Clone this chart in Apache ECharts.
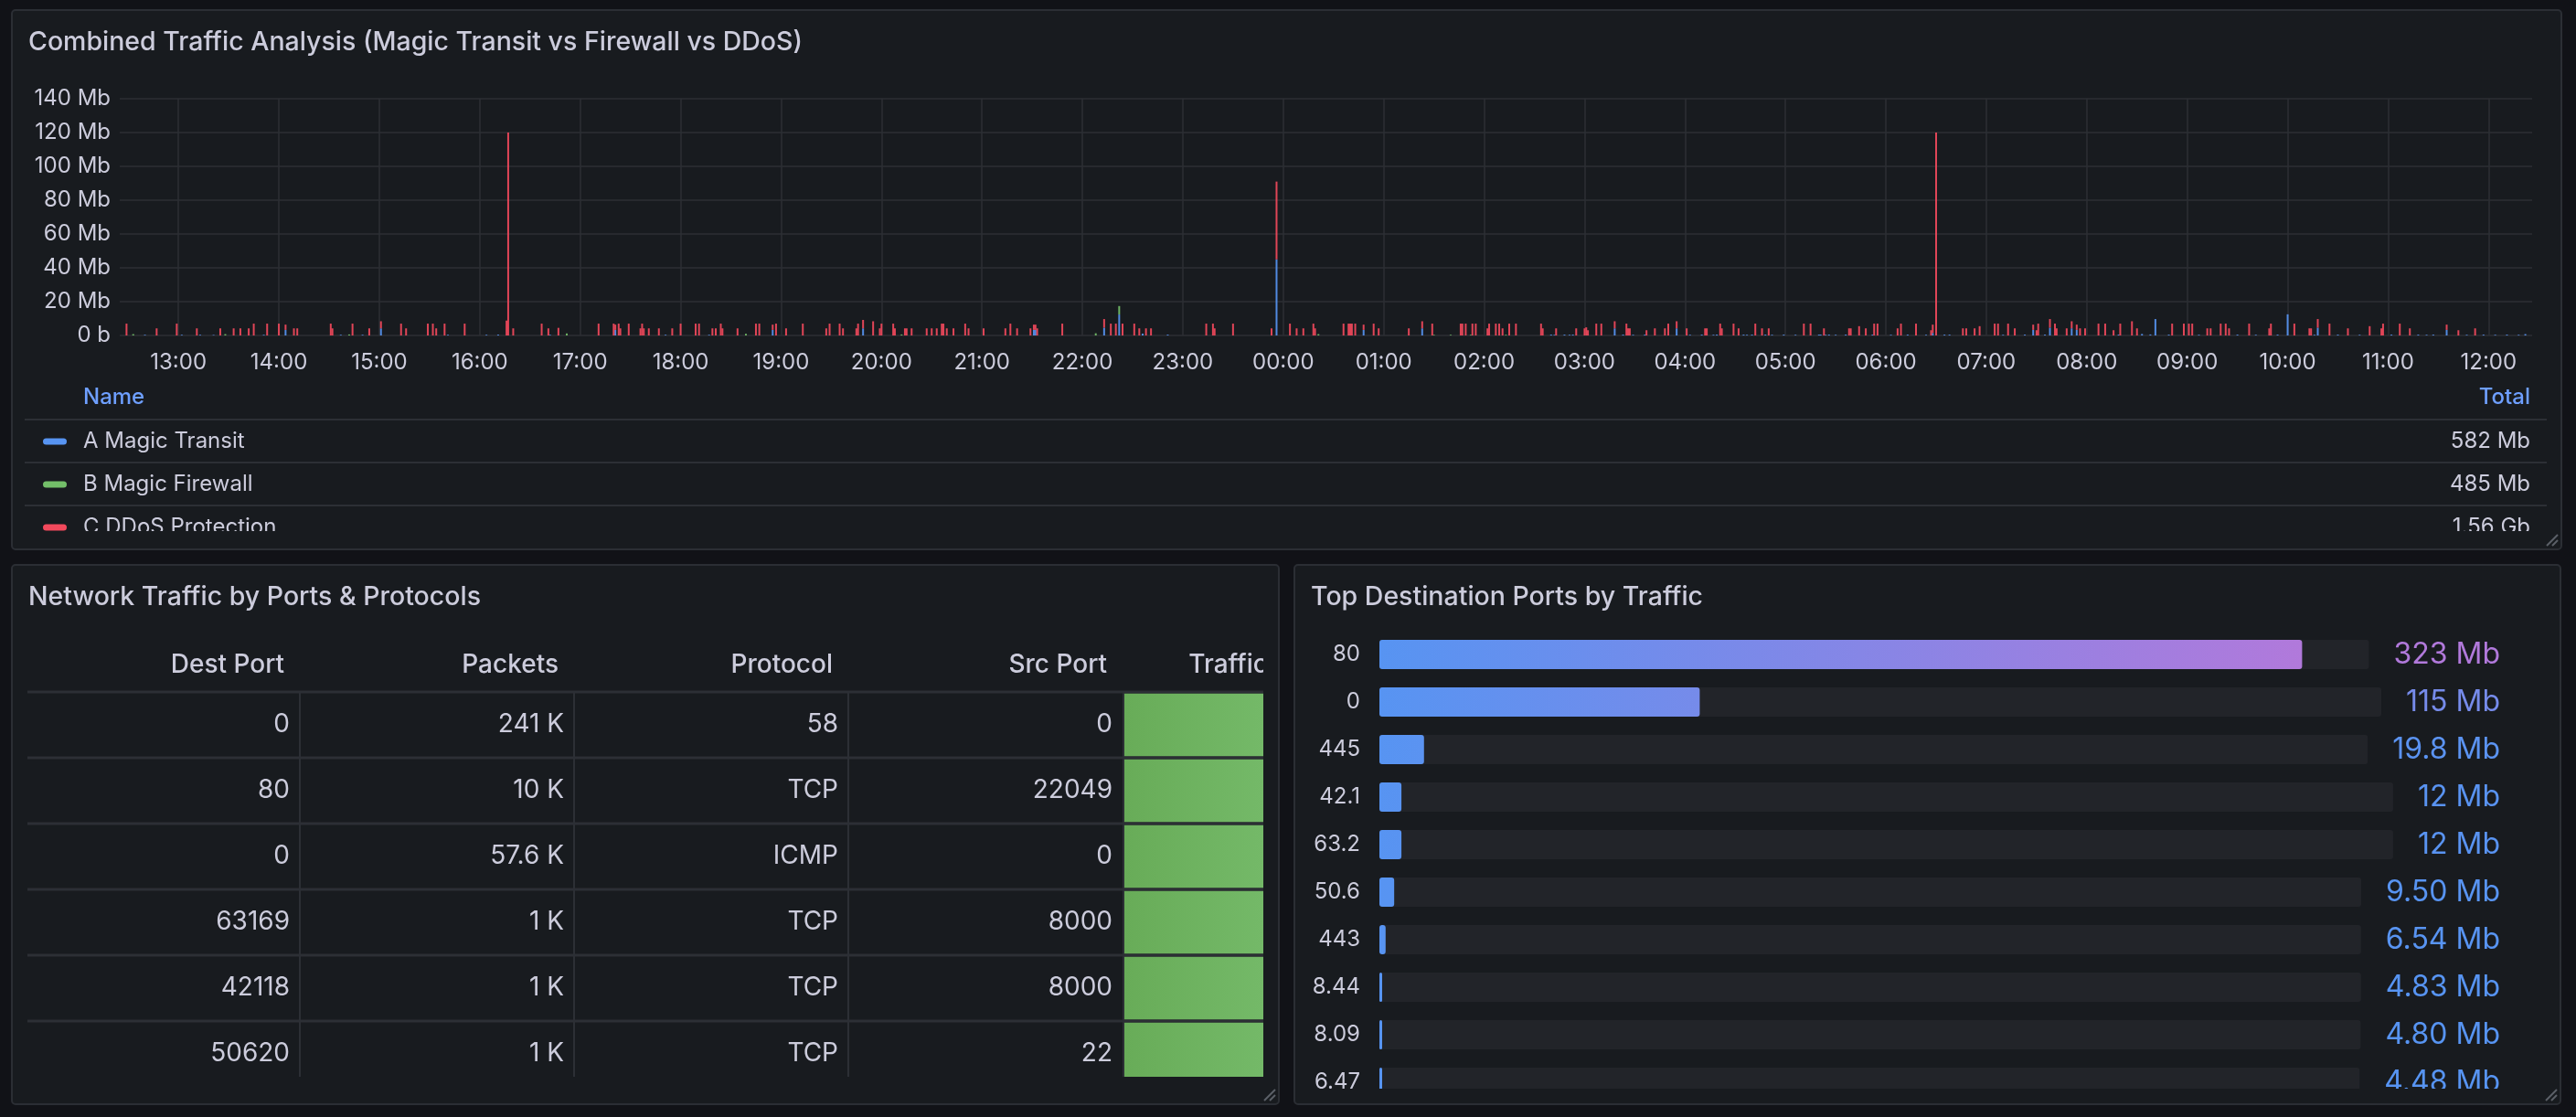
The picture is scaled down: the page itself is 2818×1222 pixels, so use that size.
<!DOCTYPE html>
<html>
<head>
<meta charset="utf-8">
<title>Traffic dashboard</title>
<script src="https://cdn.jsdelivr.net/npm/echarts@6/dist/echarts.min.js"></script>
<style>
  html, body { margin: 0; padding: 0; background: #111217; }
  #main { width: 2818px; height: 1222px; }
</style>
</head>
<body>
<div id="main"></div>
<script>
// ---- time series: sparse spikes (HH:MM, Mb) ----
var transitTimes = ['12:40', '13:02', '13:13', '13:21', '13:51', '14:04', '14:37', '14:50', '15:01', '15:41', '16:04', '16:11',
    '16:42', '17:21', '17:51', '18:17', '18:55', '19:49', '21:31', '21:32', '22:13', '22:22', '22:36', '22:51', '23:56',
    '00:48', '01:23', '02:40', '02:42', '02:48', '02:51', '02:53', '03:18', '03:23', '03:29', '03:36', '03:55', '04:03',
    '04:10', '04:17', '04:19', '04:35', '04:37', '04:40', '04:48', '04:52', '04:59', '05:06', '05:20', '05:21', '05:24',
    '05:26', '05:30', '05:36', '05:52', '06:03', '06:13', '06:24', '06:28', '06:35', '06:38', '07:10', '07:23', '07:28',
    '07:35', '07:38', '07:51', '07:54', '08:19', '08:33', '08:38', '08:41', '08:49', '09:07', '09:30', '09:41', '09:54',
    '10:00', '10:16', '10:18', '10:30', '10:43', '11:02', '11:18', '11:23', '11:27', '11:35', '11:47', '11:57', '12:04',
    '12:11', '12:18', '12:22'];
var transitValues = [0.4, 0.4, 0.4, 0.3, 0.4, 3.3, 0.4, 0.4, 4.2, 0.4, 0.4, 0.5,
    0.4, 3.3, 0.4, 0.4, 3.3, 4.2, 3.3, 3.3, 4.6, 12.4, 1.1, 0.5, 45,
    3.3, 4.2, 0.5, 0.4, 0.5, 0.4, 0.5, 4.2, 0.5, 0.4, 0.5, 4.2, 0.4,
    0.5, 0.4, 0.5, 0.5, 0.4, 0.5, 0.5, 0.4, 0.5, 0.4, 0.5, 0.5, 0.4,
    0.5, 0.4, 0.5, 0.5, 0.4, 0.5, 0.4, 1.5, 0.5, 0.5, 0.4, 0.5, 3.3,
    0.5, 4.6, 4.2, 3.3, 0.5, 0.9, 0.6, 9.7, 0.5, 0.4, 0.5, 0.4, 0.5,
    12.5, 0.4, 4.6, 0.5, 0.4, 0.5, 0.5, 0.4, 0.5, 3.3, 0.4, 0.5, 0.4,
    0.5, 0.4, 0.8];

var firewallTimes = ['12:33', '13:28', '14:42', '16:52', '18:39', '20:12', '22:08', '22:22', '00:21', '01:30', '01:40', '01:52', '02:13'];
var firewallValues = [0.8, 0.8, 0.6, 1.2, 1.0, 0.6, 1.3, 5.0, 0.8, 0.4, 0.4, 0.4, 0.4];

var ddosTimes = ['12:29', '12:47', '12:59', '13:11', '13:25', '13:33', '13:37', '13:42', '13:45', '13:53', '14:00', '14:04',
    '14:09', '14:11', '14:31', '14:32', '14:44', '14:54', '15:01', '15:13', '15:16', '15:29', '15:32', '15:34', '15:39',
    '15:51', '16:16', '16:17', '16:20', '16:37', '16:41', '16:47', '17:11', '17:20', '17:21', '17:23', '17:24', '17:29',
    '17:36', '17:37', '17:38', '17:41', '17:47', '17:55', '18:00', '18:09', '18:11', '18:19', '18:21', '18:24', '18:25',
    '18:34', '18:45', '18:47', '18:55', '18:57', '19:03', '19:13', '19:27', '19:29', '19:35', '19:37', '19:45', '19:46',
    '19:49', '19:55', '19:59', '20:00', '20:07', '20:08', '20:14', '20:15', '20:18', '20:27', '20:30', '20:33', '20:36',
    '20:37', '20:39', '20:43', '20:50', '20:52', '21:01', '21:14', '21:17', '21:21', '21:29', '21:31', '21:32', '21:33',
    '21:48', '22:13', '22:17', '22:20', '22:24', '22:31', '22:34', '22:38', '22:41', '23:14', '23:18', '23:19', '23:30',
    '23:53', '23:56', '00:04', '00:08', '00:12', '00:18', '00:19', '00:36', '00:39', '00:40', '00:41', '00:43', '00:48',
    '00:54', '00:57', '01:15', '01:23', '01:29', '01:46', '01:47', '01:49', '01:53', '01:55', '02:02', '02:03', '02:07',
    '02:09', '02:11', '02:15', '02:19', '02:34', '02:35', '02:43', '02:55', '03:00', '03:01', '03:02', '03:07', '03:10',
    '03:18', '03:25', '03:26', '03:27', '03:37', '03:42', '03:48', '03:50', '03:55', '04:01', '04:12', '04:13', '04:21',
    '04:22', '04:29', '04:32', '04:42', '04:46', '04:50', '05:11', '05:15', '05:23', '05:38', '05:39', '05:44', '05:48',
    '05:53', '05:55', '06:07', '06:09', '06:18', '06:27', '06:28', '06:30', '06:46', '06:48', '06:53', '06:56', '07:05',
    '07:07', '07:13', '07:17', '07:28', '07:30', '07:31', '07:38', '07:41', '07:42', '07:48', '07:51', '07:54', '07:56',
    '07:59', '08:07', '08:11', '08:16', '08:20', '08:27', '08:30', '08:51', '08:58', '09:01', '09:03', '09:12', '09:14',
    '09:20', '09:23', '09:25', '09:37', '09:49', '09:50', '10:04', '10:13', '10:14', '10:18', '10:25', '10:36', '10:49',
    '10:56', '10:57', '11:07', '11:13', '11:35', '11:42', '11:52'];
var ddosValues = [7, 4.2, 7, 4.2, 4.2, 4.2, 4.2, 4.2, 7, 7, 7, 3.1,
    4.2, 4.2, 7, 4.2, 7, 4.2, 4.2, 7, 4.2, 7, 7, 4.2, 7,
    7, 8.8, 120, 4.2, 7, 4.2, 4.5, 7, 7, 3.1, 7, 4.2, 7,
    4.2, 7, 4.2, 4.2, 4.2, 4.2, 7, 7, 7, 4.2, 4.2, 7, 4.2,
    4.2, 7, 7, 3.1, 7, 4.2, 7, 4.2, 7, 7, 4.2, 4.2, 7,
    5.0, 8.4, 4.2, 7, 7, 4.2, 4.2, 4.2, 4.2, 4.2, 4.2, 4.2, 7,
    7, 4.2, 4.2, 7, 4.2, 4.2, 4.2, 7, 4.2, 4.2, 3.1, 3.1, 4.2,
    7, 5.1, 7, 7, 7, 7, 4.2, 4.2, 4.2, 7, 7, 4.2, 7,
    4.2, 46, 7, 4.2, 4.2, 7, 4.2, 7, 7, 7, 7, 7, 3.1,
    7, 4.2, 4.2, 4.2, 7, 7, 7, 7, 7, 7, 4.2, 7, 7,
    7, 4.2, 7, 7, 7, 4.2, 4.2, 4.2, 4.2, 4.8, 3.1, 7, 7,
    4.2, 7, 4.2, 4.2, 3.1, 4.2, 4.2, 7, 4.2, 4.2, 4.2, 4.2, 7,
    4.2, 7, 4.2, 7, 4.2, 4.2, 7, 7, 4.2, 4.2, 4.2, 5.5, 4.2,
    7, 7, 4.2, 7, 7, 3.1, 4.9, 120, 4.2, 4.2, 4.2, 5.5, 7,
    7, 7, 4.2, 3.1, 3.1, 7, 5.1, 7, 4.2, 4.2, 4.2, 3.1, 4.2,
    4.2, 7, 7, 3.1, 7, 8.4, 4.2, 7, 7, 7, 7, 4.2, 4.2,
    7, 7, 4.2, 7, 4.2, 7, 7, 4.2, 4.2, 5.1, 7, 4.2, 5.5,
    4.2, 7, 7, 4.2, 3.1, 3.1, 4.2];

var yTicks = [0, 20, 40, 60, 80, 100, 120, 140];
var legendNames = ['A Magic Transit', 'B Magic Firewall', 'C DDoS Protection'];
var legendTotals = ['582 Mb', '485 Mb', '1.56 Gb'];

// ---- table ----
var tableHeaders = ['Dest Port', 'Packets', 'Protocol', 'Src Port', 'Traffic'];
var destPorts = ['0', '80', '0', '63169', '42118', '50620'];
var packets = ['241 K', '10 K', '57.6 K', '1 K', '1 K', '1 K'];
var protocols = ['58', 'TCP', 'ICMP', 'TCP', 'TCP', 'TCP'];
var srcPorts = ['0', '22049', '0', '8000', '8000', '22'];

// ---- bar gauge ----
var portLabels = ['80', '0', '445', '42.1', '63.2', '50.6', '443', '8.44', '8.09', '6.47'];
var portValues = [323, 115, 19.8, 12, 12, 9.5, 6.54, 4.83, 4.80, 4.48];
var portValueText = ['323 Mb', '115 Mb', '19.8 Mb', '12 Mb', '12 Mb', '9.50 Mb', '6.54 Mb', '4.83 Mb', '4.80 Mb', '4.48 Mb'];

var FONT = 'Inter, "Noto Sans", sans-serif';
var TEXT = '#ccccdc';
var GRID_LINE = '#2c2f35';
var PANEL_BG = '#181b1f';
var PANEL_BORDER = '#2b2e34';
var COLORS = ['#5794F2', '#73BF69', '#F2495C'];
var GAUGE_MIN = 4.4;
var GAUGE_MAX = 347.5;

var START = new Date(2024, 4, 1, 12, 25, 30).getTime();
var END = START + 24 * 3600 * 1000;

function toTs(hm) {
    var p = hm.split(':');
    var t = new Date(2024, 4, 1, Number(p[0]), Number(p[1])).getTime();
    if (t < START) t += 24 * 3600 * 1000;
    return t;
}

// stacking on a time axis goes by index, so put every series on the same time list
var allTimes = [];
transitTimes.concat(firewallTimes, ddosTimes).forEach(function (hm) {
    var t = toTs(hm);
    if (allTimes.indexOf(t) < 0) allTimes.push(t);
});
allTimes.sort(function (a, b) { return a - b; });

function alignSeries(times, values) {
    var m = {};
    times.forEach(function (hm, i) { m[toTs(hm)] = values[i]; });
    return allTimes.map(function (t) { return [t, m[t] || 0]; });
}

function mixColor(a, b, f) {
    var pa = [1, 3, 5].map(function (i) { return parseInt(a.substr(i, 2), 16); });
    var pb = [1, 3, 5].map(function (i) { return parseInt(b.substr(i, 2), 16); });
    return 'rgb(' + pa.map(function (v, i) { return Math.round(v + (pb[i] - v) * f); }).join(',') + ')';
}

var measureCtx = document.createElement('canvas').getContext('2d');
function textWidth(t, size) {
    measureCtx.font = size + 'px ' + FONT;
    return measureCtx.measureText(t).width;
}

// ---- graphic: panels, legend table, data table ----
var g = [];

function panel(x, y, w, h, title) {
    g.push({ type: 'rect', z: -100, shape: { x: x, y: y, width: w, height: h, r: 4 },
        style: { fill: PANEL_BG, stroke: PANEL_BORDER, lineWidth: 2 } });
    g.push({ type: 'text', z: 10, style: { x: x + 18, y: y + 35, text: title, fill: TEXT,
        fontSize: 28.5, fontWeight: 500, fontFamily: FONT, verticalAlign: 'middle' } });
}
function resizeHandle(x, y) {
    g.push({ type: 'line', z: 120, shape: { x1: x - 14, y1: y - 2, x2: x - 2, y2: y - 14 }, style: { stroke: '#5c6068', lineWidth: 2 } });
    g.push({ type: 'line', z: 120, shape: { x1: x - 8, y1: y - 2, x2: x - 2, y2: y - 8 }, style: { stroke: '#5c6068', lineWidth: 2 } });
}
function text(x, y, t, opt) {
    g.push({ type: 'text', z: opt.z || 10, style: { x: x, y: y, text: t, fill: opt.fill || TEXT,
        fontSize: opt.size || 24, fontWeight: opt.weight || 400, fontFamily: FONT,
        align: opt.align || 'left', verticalAlign: 'middle' } });
}
function hline(x1, x2, y, w) {
    g.push({ type: 'line', z: 5, shape: { x1: x1, y1: y, x2: x2, y2: y }, style: { stroke: GRID_LINE, lineWidth: w || 2 } });
}
function vline(x, y1, y2, w) {
    g.push({ type: 'line', z: 5, shape: { x1: x, y1: y1, x2: x, y2: y2 }, style: { stroke: GRID_LINE, lineWidth: w || 2 } });
}
function cover(x, y, w, h) {
    g.push({ type: 'rect', z: 100, shape: { x: x, y: y, width: w, height: h }, style: { fill: PANEL_BG } });
}

panel(13, 11, 2789, 590, 'Combined Traffic Analysis (Magic Transit vs Firewall vs DDoS)');
panel(13, 618, 1386, 590, 'Network Traffic by Ports & Protocols');
panel(1416, 618, 1385, 590, 'Top Destination Ports by Traffic');

// legend table of the time series
text(91, 435, 'Name', { fill: '#6E9FFF', weight: 500 });
text(2768, 435, 'Total', { fill: '#6E9FFF', weight: 500, align: 'right' });
legendNames.forEach(function (name, i) {
    var cy = 483 + i * 47;
    hline(27, 2786, 459 + i * 47, 2);
    g.push({ type: 'rect', z: 10, shape: { x: 47, y: cy - 3.5, width: 26, height: 7, r: 3.5 }, style: { fill: COLORS[i] } });
    text(91, cy, name, {});
    text(2768, cy, legendTotals[i], { align: 'right' });
});
cover(15, 581, 2785, 18);
resizeHandle(2800, 599);

// data table
var tLeft = 30, colW = 300, headY = 728, headBottom = 757, rowH = 72, tableClip = 1178, tableRight = 1382;
var columns = [destPorts, packets, protocols, srcPorts];
tableHeaders.forEach(function (h, c) {
    var right = c < 4 ? tLeft + (c + 1) * colW : 1406;
    text(right - 19, headY, h, { size: 28, weight: 500, align: 'right' });
});
hline(tLeft, tableRight, headBottom, 3);
destPorts.forEach(function (d, r) {
    var top = headBottom + r * rowH;
    var gx = tLeft + 4 * colW;
    g.push({ type: 'rect', z: 4, shape: { x: gx, y: top + 1.5, width: tableRight - gx, height: rowH - 3 },
        style: { fill: new echarts.graphic.LinearGradient(0, 0, 1, 0, [
            { offset: 0, color: '#68ac58' }, { offset: 1, color: '#74b968' }]) } });
    columns.forEach(function (col, c) {
        text(tLeft + (c + 1) * colW - 13, top + rowH / 2, col[r], { size: 28, align: 'right' });
    });
    if (r > 0) hline(tLeft, tableRight, top, 3);
});
for (var c = 1; c <= 3; c++) vline(tLeft + c * colW - 2, headBottom, tableClip, 2);
vline(tLeft + 4 * colW - 1, headBottom, tableClip, 2);
cover(15, tableClip, 1382, 1206 - tableClip);
cover(tableRight, 660, 1397 - tableRight, 546);
resizeHandle(1397, 1206);

// bar gauge clipping
cover(1418, 1191, 1381, 15);
resizeHandle(2799, 1206);

// ---- chart ----
var chart = echarts.init(document.getElementById('main'));

var seriesData = [
    alignSeries(transitTimes, transitValues),
    alignSeries(firewallTimes, firewallValues),
    alignSeries(ddosTimes, ddosValues)
];

var option = {
    backgroundColor: '#111217',
    animation: false,
    textStyle: { fontFamily: FONT },
    graphic: { elements: g },
    grid: [
        { left: 131, top: 108, width: 2639, height: 259 },
        { left: 1509, top: 690, width: 1087, height: 520 }
    ],
    xAxis: [{
        type: 'time',
        gridIndex: 0,
        min: START,
        max: END,
        minInterval: 3600 * 1000,
        maxInterval: 3600 * 1000,
        axisLine: { show: false },
        axisTick: { show: false },
        splitLine: { show: true, showMinLine: false, showMaxLine: false, lineStyle: { color: GRID_LINE, width: 1.5 } },
        axisLabel: {
            color: TEXT, fontSize: 24, fontFamily: FONT, margin: 18,
            showMinLabel: false, showMaxLabel: false,
            formatter: function (v) { return echarts.time.format(v, '{HH}:{mm}', false); }
        }
    }, {
        type: 'value',
        gridIndex: 1,
        min: GAUGE_MIN,
        max: GAUGE_MAX,
        show: false
    }],
    yAxis: [{
        type: 'value',
        gridIndex: 0,
        min: yTicks[0],
        max: yTicks[yTicks.length - 1],
        interval: 20,
        axisLine: { show: false },
        axisTick: { show: false },
        splitLine: { lineStyle: { color: GRID_LINE, width: 1.5 } },
        axisLabel: {
            color: TEXT, fontSize: 24, fontFamily: FONT, margin: 10,
            formatter: function (v) { return v === 0 ? '0 b' : v + ' Mb'; }
        }
    }, {
        type: 'category',
        gridIndex: 1,
        inverse: true,
        data: portLabels,
        axisLine: { show: false },
        axisTick: { show: false },
        splitLine: { show: false },
        axisLabel: { color: TEXT, fontSize: 24, fontFamily: FONT, margin: 21 }
    }],
    series: legendNames.map(function (name, i) {
        return {
            type: 'bar',
            name: name,
            stack: 'traffic',
            xAxisIndex: 0,
            yAxisIndex: 0,
            barWidth: 2,
            silent: true,
            itemStyle: { color: COLORS[i], opacity: 0.92 },
            data: seriesData[i]
        };
    }).concat([{
        type: 'custom',
        xAxisIndex: 1,
        yAxisIndex: 1,
        clip: false,
        silent: true,
        encode: { x: 0, y: 1 },
        data: portValues.map(function (v, i) { return [v, i]; }),
        renderItem: function (params, api) {
            var v = api.value(0);
            var i = api.value(1);
            var end = api.coord([v, i]);
            var x0 = api.coord([GAUGE_MIN, i])[0];
            var cy = end[1];
            var h = 32;
            var valueRight = api.getWidth() - 83;
            var label = portValueText[i];
            var trackEnd = valueRight - textWidth(label, 32) - 27;
            var frac = Math.min(1, (v - GAUGE_MIN) / (GAUGE_MAX - GAUGE_MIN));
            var col = mixColor('#5794F2', '#B877D9', frac);
            var barW = Math.max(end[0] - x0, 3);
            return {
                type: 'group',
                children: [{
                    type: 'rect',
                    shape: { x: x0, y: cy - h / 2, width: trackEnd - x0, height: h, r: 3 },
                    style: { fill: '#222429' }
                }, {
                    type: 'rect',
                    shape: { x: x0, y: cy - h / 2, width: barW, height: h, r: 3 },
                    style: { fill: new echarts.graphic.LinearGradient(0, 0, 1, 0, [
                        { offset: 0, color: '#5794F2' }, { offset: 1, color: col }]) }
                }, {
                    type: 'text',
                    style: { x: valueRight, y: cy, text: label, fill: col, fontSize: 32,
                        fontFamily: FONT, align: 'right', verticalAlign: 'middle' }
                }]
            };
        }
    }])
};

chart.setOption(option);
</script>
</body>
</html>
